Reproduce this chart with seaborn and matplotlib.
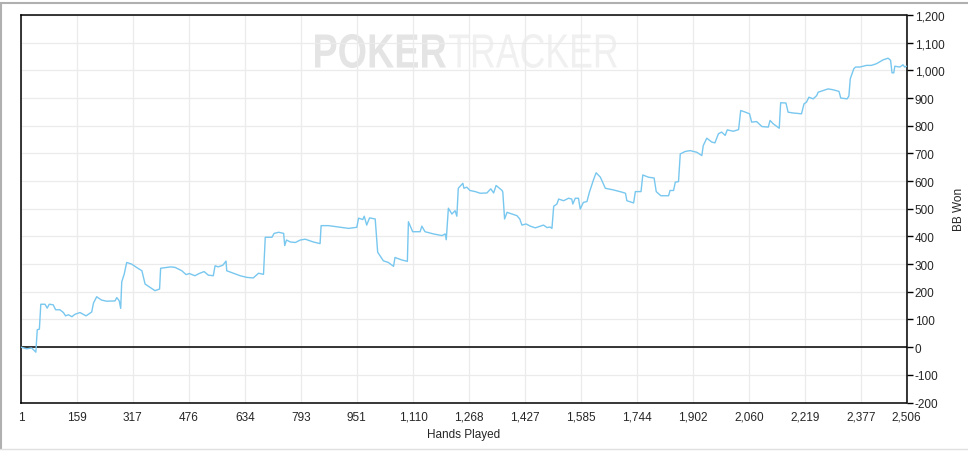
import matplotlib
matplotlib.use("Agg")
import matplotlib.pyplot as plt
import matplotlib.ticker as mticker
import matplotlib.transforms as mtrans
from matplotlib.lines import Line2D
from matplotlib.textpath import TextPath
from matplotlib.patches import PathPatch
from matplotlib.font_manager import FontProperties
import seaborn as sns
import pandas as pd

# cumulative BB won
hands = [1, 17, 31, 43, 47, 53, 57, 69, 75, 81, 92, 99, 111, 121, 127, 135, 145,
         154, 168, 185, 201, 206, 215, 229, 243, 267, 272, 279, 283, 286, 293, 300,
         314, 328, 343, 352, 366, 380, 393, 396, 413, 425, 437, 456, 468, 477, 493,
         505, 519, 531, 545, 550, 559, 572, 581, 583, 602, 621, 640, 658, 673, 687,
         692, 711, 717, 730, 744, 747, 752, 763, 777, 791, 805, 828, 847, 850, 871,
         904, 928, 951, 956, 968, 972, 979, 987, 1003, 1010, 1026, 1040, 1055, 1059,
         1078, 1094, 1097, 1109, 1130, 1135, 1144, 1168, 1192, 1201, 1204, 1210,
         1220, 1229, 1234, 1238, 1251, 1254, 1262, 1271, 1286, 1300, 1319, 1330,
         1338, 1345, 1362, 1364, 1369, 1376, 1390, 1404, 1412, 1418, 1430, 1442,
         1456, 1470, 1479, 1489, 1498, 1503, 1508, 1517, 1522, 1536, 1550, 1559,
         1562, 1569, 1578, 1583, 1592, 1602, 1609, 1622, 1628, 1640, 1654, 1677,
         1701, 1711, 1715, 1734, 1739, 1755, 1760, 1776, 1792, 1798, 1811, 1833,
         1837, 1847, 1852, 1861, 1866, 1880, 1894, 1913, 1927, 1931, 1941, 1955,
         1964, 1974, 1983, 1993, 1999, 2016, 2031, 2037, 2050, 2062, 2068, 2082,
         2097, 2115, 2120, 2129, 2146, 2150, 2165, 2171, 2185, 2209, 2216, 2223,
         2230, 2242, 2252, 2256, 2270, 2284, 2298, 2315, 2320, 2338, 2343, 2347,
         2357, 2362, 2374, 2393, 2407, 2421, 2440, 2454, 2461, 2465, 2470, 2473,
         2487, 2496, 2501, 2506]
bb_won = [0, -6, -3, -18, 63, 65, 155, 155, 141, 155, 153, 135, 135, 125, 113,
          117, 110, 119, 125, 113, 127, 159, 182, 170, 166, 167, 179, 167, 140, 236,
          264, 306, 300, 288, 276, 228, 216, 204, 210, 285, 288, 290, 288, 276, 262,
          266, 258, 266, 273, 260, 258, 294, 290, 296, 311, 276, 267, 258, 252, 250,
          267, 263, 397, 397, 411, 415, 411, 367, 387, 380, 378, 387, 390, 380, 374,
          439, 439, 433, 429, 433, 466, 461, 473, 441, 467, 463, 343, 312, 306, 292,
          324, 315, 310, 453, 417, 417, 437, 417, 409, 403, 409, 388, 502, 481, 493,
          473, 574, 592, 574, 578, 566, 562, 556, 557, 572, 557, 584, 566, 560, 463,
          487, 481, 475, 463, 441, 445, 437, 431, 437, 441, 432, 434, 429, 509, 517,
          535, 529, 538, 535, 517, 538, 538, 499, 523, 526, 560, 610, 630, 614, 574,
          568, 560, 556, 529, 521, 562, 562, 622, 614, 611, 562, 547, 547, 566, 566,
          596, 598, 698, 707, 710, 704, 692, 728, 755, 741, 738, 771, 777, 765, 785,
          780, 786, 855, 849, 843, 813, 815, 797, 795, 819, 807, 791, 883, 882, 849,
          846, 843, 879, 885, 903, 897, 909, 921, 927, 933, 930, 924, 900, 897, 907,
          970, 1006, 1012, 1012, 1018, 1018, 1024, 1038, 1044, 1036, 991, 991, 1015,
          1012, 1020, 1012, 1015]

x_ticks = [1, 159, 317, 476, 634, 793, 951, 1110, 1268, 1427, 1585, 1744, 1902,
           2060, 2219, 2377, 2506]
y_ticks = list(range(-200, 1201, 100))

df = pd.DataFrame({"Hands Played": hands, "BB Won": bb_won})

sns.set_style("white")
plt.rcParams["font.family"] = ["Liberation Sans", "DejaVu Sans"]

W, H = 968, 452
fig = plt.figure(figsize=(W / 100, H / 100), dpi=100)
ax = fig.add_axes([21 / W, 1 - 403.5 / H, 885.5 / W, 387.5 / H])
ax.set_facecolor("none")


def watermark(word, weight, color, x0, x1, top, bottom):
    # squeeze the word into the box the watermark takes up in the screenshot
    tp = TextPath((0, 0), word, size=1, prop=FontProperties(family="Liberation Sans", weight=weight))
    bb = tp.get_extents()
    tr = (mtrans.Affine2D().translate(-bb.x0, -bb.y0)
          .scale((x1 - x0) / bb.width, (bottom - top) / bb.height)
          .translate(x0, H - bottom))
    fig.add_artist(PathPatch(tp, transform=tr, facecolor=color, edgecolor="none", zorder=0))


watermark("POKER", "bold", "#e4e4e4", 315, 446, 35, 69)
watermark("TRACKER", "normal", "#f0f0f0", 449, 617, 35, 69)

sns.lineplot(data=df, x="Hands Played", y="BB Won", ax=ax, color="#78c7ef",
             linewidth=1.0, estimator=None, sort=False, zorder=3)
ax.axhline(0, color="black", linewidth=1.1, zorder=2)

ax.set_xlim(1, 2506)
ax.set_ylim(-200, 1200)
ax.set_xticks(x_ticks)
ax.set_yticks(y_ticks)
ax.xaxis.set_major_formatter(mticker.FuncFormatter(lambda v, p: f"{int(round(v)):,}"))
ax.yaxis.set_major_formatter(mticker.FuncFormatter(lambda v, p: f"{int(round(v)):,}"))
ax.yaxis.tick_right()
ax.yaxis.set_label_position("right")
ax.grid(True, color="#ebebeb", linewidth=0.9, zorder=0)
ax.tick_params(axis="both", direction="out", length=4, width=1, color="black",
               labelsize=8.5, pad=2)
ax.tick_params(axis="y", right=True, left=False)
for s in ax.spines.values():
    s.set_color("black")
    s.set_linewidth(1.1)

ax.set_xlabel("Hands Played", fontsize=8.5, labelpad=4)
ax.set_ylabel("BB Won", fontsize=8.5, labelpad=6)

# thin window frame around the chart
fig.add_artist(Line2D([0, 1], [1 - 4 / H, 1 - 4 / H], color="#b0b0b0", linewidth=1.5))
fig.add_artist(Line2D([1 / W, 1 / W], [1 - 4 / H, 2 / H], color="#b0b0b0", linewidth=1.5))
fig.add_artist(Line2D([0, 1], [2 / H, 2 / H], color="#e0e0e0", linewidth=1))

fig.savefig("out.png", dpi=100, facecolor="white")
